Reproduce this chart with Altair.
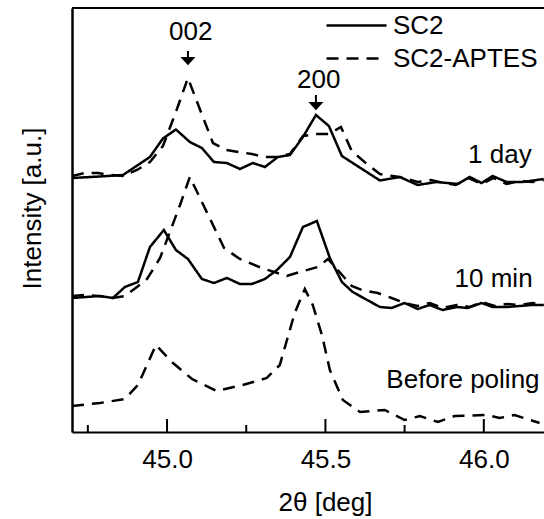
import altair as alt
import pandas as pd

# ---- data (2theta in deg, intensity in arbitrary units) ----
sc2_1day_x = [44.700, 44.788, 44.861, 44.946, 44.987, 45.028, 45.072, 45.110, 45.148, 45.189,
              45.230, 45.271, 45.309, 45.350, 45.388, 45.429, 45.470, 45.511, 45.552, 45.672,
              45.735, 45.791, 45.851, 45.918, 45.956, 45.993, 46.028, 46.072, 46.123, 46.189]
sc2_1day_y = [254, 255.5, 257, 275, 293.5, 302.5, 290, 284, 270, 269,
              263, 269, 265, 275, 277, 295, 317, 306, 276, 251.5,
              255, 247, 250, 248, 255, 249, 256, 250, 250, 253]

aptes_1day_x = [44.700, 44.741, 44.782, 44.820, 44.861, 44.905, 44.946, 44.987, 45.028, 45.066,
                45.107, 45.145, 45.186, 45.227, 45.268, 45.309, 45.350, 45.388, 45.429, 45.470,
                45.511, 45.549, 45.583, 45.631, 45.672, 45.713, 45.750, 45.791, 45.833, 45.874,
                45.911, 45.952, 45.993, 46.031, 46.072, 46.113, 46.154, 46.189]
aptes_1day_y = [256, 259, 259, 257, 256, 262, 270, 286, 320, 354,
                320, 289, 282, 280, 278, 275, 275, 278, 296, 298,
                298, 305, 281, 268, 258, 256, 254, 250, 252, 249,
                247, 254, 248, 254, 248, 251, 250, 252]

sc2_10min_x = [44.700, 44.744, 44.788, 44.829, 44.867, 44.908, 44.946, 44.990, 45.028, 45.066,
               45.110, 45.148, 45.189, 45.230, 45.268, 45.309, 45.347, 45.388, 45.429, 45.473,
               45.514, 45.552, 45.586, 45.672, 45.709, 45.750, 45.791, 45.829, 45.870, 45.915,
               45.949, 45.993, 46.028, 46.072, 46.154, 46.189]
sc2_10min_y = [134, 135, 136, 134, 145, 150, 185, 202, 182, 173,
               153, 149, 154, 148, 148, 153, 162, 175, 205, 211,
               174, 150, 140, 125, 124, 129, 123, 127, 122, 125,
               124, 129, 125, 125, 127, 127]

aptes_10min_x = [44.700, 44.741, 44.782, 44.829, 44.867, 44.905, 44.937, 44.978, 45.009, 45.041,
                 45.072, 45.104, 45.142, 45.180, 45.230, 45.299, 45.378, 45.419, 45.476, 45.508,
                 45.561, 45.583, 45.615, 45.665, 45.709, 45.750, 45.791, 45.829, 45.870, 45.915,
                 45.956, 45.993, 46.034, 46.072, 46.113, 46.154, 46.189]
aptes_10min_y = [136, 137, 136, 134, 136, 145, 153, 174, 200, 227,
                 255, 234, 209, 184, 173, 164, 156, 160, 165, 173,
                 154, 146, 142, 139, 134, 129, 126, 129, 124, 127,
                 125, 130, 126, 128, 127, 129, 127]

aptes_before_x = [44.700, 44.788, 44.867, 44.908, 44.965, 45.015, 45.079, 45.157, 45.239, 45.315,
                  45.356, 45.403, 45.435, 45.460, 45.489, 45.514, 45.555, 45.609, 45.687, 45.750,
                  45.798, 45.855, 45.908, 46.012, 46.050, 46.097, 46.176]
aptes_before_y = [26, 29, 33, 47, 87, 70, 53, 41, 47, 54,
                  67, 119, 143, 127, 97, 62, 32, 20, 22, 12,
                  16, 10, 16, 17, 14, 17, 9]

samples = ["SC2", "SC2-APTES"]

# curve labels
curve_names = ["1 day", "10 min", "Before poling"]
curve_label_x = [46.151, 46.154, 46.176]
curve_label_y = [269, 145, 44]

# peak annotations
peak_names = ["002", "200"]
peak_label_x = [45.075, 45.479]
peak_label_y = [392, 344]
arrow_x = [45.066, 45.470]
arrow_head_y = [371, 326]
arrow_top_y = [381, 337]

# x axis
major_ticks = [45.0, 45.5, 46.0]
minor_ticks = [44.75, 45.25, 45.75]
x_domain = [44.7, 46.19]
y_domain = [0, 424]

# ---- build table ----
rows = []
for xs, ys, s, c in [
    (sc2_1day_x, sc2_1day_y, "SC2", "1 day"),
    (aptes_1day_x, aptes_1day_y, "SC2-APTES", "1 day"),
    (sc2_10min_x, sc2_10min_y, "SC2", "10 min"),
    (aptes_10min_x, aptes_10min_y, "SC2-APTES", "10 min"),
    (aptes_before_x, aptes_before_y, "SC2-APTES", "Before poling"),
]:
    for i, (a, b) in enumerate(zip(xs, ys)):
        rows.append({"x": a, "y": b, "sample": s, "curve": c + " " + s, "order": i})
df = pd.DataFrame(rows)

FONT = "Liberation Sans"
FS = 26
xs_ = alt.Scale(domain=x_domain, nice=False, zero=False)
ys_ = alt.Scale(domain=y_domain, nice=False, zero=False)

lines = alt.Chart(df).mark_line(color="black", strokeWidth=2.5, clip=True).encode(
    x=alt.X("x:Q", scale=xs_, axis=alt.Axis(
        values=major_ticks, format=".1f", ticks=False, grid=False,
        domainColor="black", domainWidth=2, labelFont=FONT, labelFontSize=FS,
        labelColor="black", labelBaseline="alphabetic", labelPadding=35,
        title="2θ [deg]", titleFont=FONT, titleFontSize=FS, titleFontWeight="normal",
        titleColor="black", titleX=253, titleY=78, titleBaseline="alphabetic",
        titleAnchor="start", titleAlign="center")),
    y=alt.Y("y:Q", scale=ys_, axis=alt.Axis(
        ticks=False, labels=False, grid=False, domainColor="black", domainWidth=2.5,
        title="Intensity [a.u.]", titleFont=FONT, titleFontSize=FS, titleFontWeight="normal",
        titleColor="black", titleX=-32, titleY=200, titleAlign="center",
        titleBaseline="alphabetic", titleAngle=270)),
    strokeDash=alt.StrokeDash("sample:N", scale=alt.Scale(domain=samples, range=[[1, 0], [12, 8]]),
                              legend=alt.Legend(title=None, orient="none", legendX=271, legendY=4,
                                                symbolType="M-2.5,0H2.5", symbolSize=576,
                                                symbolStrokeWidth=2.5, symbolStrokeColor="black",
                                                labelFont=FONT, labelFontSize=FS, labelColor="black",
                                                labelOffset=23, rowPadding=6, padding=0)),
    detail="curve:N",
    order="order:Q",
)

tick_df = pd.DataFrame({
    "tx": major_ticks + minor_ticks,
    "y0": [0] * 6,
    "tl": [13] * 3 + [7] * 3,
})
ticks = alt.Chart(tick_df).mark_rule(color="black", strokeWidth=2).encode(
    x=alt.X("tx:Q", scale=xs_), y=alt.Y("y0:Q", scale=ys_), y2="tl:Q")

frame_df = pd.DataFrame({"x0": [x_domain[0]], "x1": [x_domain[1]], "yt": [y_domain[1]]})
top_line = alt.Chart(frame_df).mark_rule(color="black", strokeWidth=2).encode(
    x=alt.X("x0:Q", scale=xs_), x2="x1:Q", y=alt.Y("yt:Q", scale=ys_))

clab_df = pd.DataFrame({"x": curve_label_x, "y": curve_label_y, "t": curve_names})
clabels = alt.Chart(clab_df).mark_text(font=FONT, fontSize=FS, align="right",
                                       baseline="alphabetic", color="black").encode(
    x=alt.X("x:Q", scale=xs_), y=alt.Y("y:Q", scale=ys_), text="t:N")

plab_df = pd.DataFrame({"x": peak_label_x, "y": peak_label_y, "t": peak_names})
plabels = alt.Chart(plab_df).mark_text(font=FONT, fontSize=FS, align="center",
                                       baseline="alphabetic", color="black").encode(
    x=alt.X("x:Q", scale=xs_), y=alt.Y("y:Q", scale=ys_), text="t:N")

arr_df = pd.DataFrame({"x": arrow_x, "yh": arrow_head_y, "yt": arrow_top_y})
stems = alt.Chart(arr_df).mark_rule(color="black", strokeWidth=2).encode(
    x=alt.X("x:Q", scale=xs_), y=alt.Y("yt:Q", scale=ys_), y2="yh:Q")
heads = alt.Chart(arr_df).mark_point(shape="M-1,-0.55L1,-0.55L0,0.55Z", filled=True,
                                     size=225, color="black", opacity=1).encode(
    x=alt.X("x:Q", scale=xs_), y=alt.Y("yh:Q", scale=ys_))

chart = alt.layer(lines, ticks, top_line, clabels, plabels, stems, heads).properties(
    width=472, height=424,
    padding={"left": 72, "top": 8, "right": 0, "bottom": 87},
    autosize=alt.AutoSizeParams(type="none"),
    background="white",
).configure_view(strokeWidth=0)

chart.save("out.html", embed_options={"renderer": "svg", "actions": False})
